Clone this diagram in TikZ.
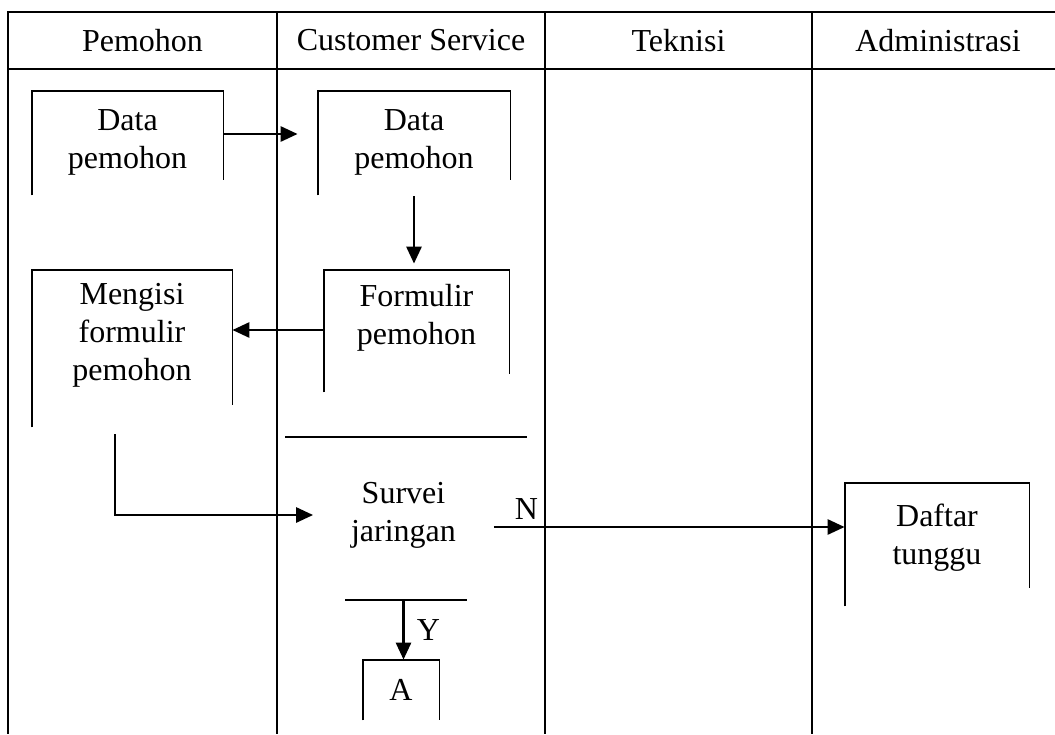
\documentclass[tikz,border=0pt]{standalone}
\usepackage{fontspec}
\setmainfont{Liberation Serif}
\usetikzlibrary{arrows.meta}
\usetikzlibrary{positioning}
\tikzset{lane line/.style={line width=1pt},}
\tikzset{box line/.style={line width=0.9pt},}
\tikzset{doc node/.style={inner sep=0pt, align=center, font=\fontsize{16}{19}\selectfont},}
\tikzset{lane title/.style={inner sep=0pt, font=\fontsize{16}{19}\selectfont},}
\tikzset{flow arrow/.style={-{Triangle[length=8.5pt,width=7.5pt]}, line width=1.4pt},}
% open document box: left side and right side end at their own heights
\newcommand{\docoutline}[3]{\draw[box line] ([yshift=#2]#1.south west) -- (#1.north west) -- (#1.north east) -- ([yshift=#3]#1.south east);}

\begin{document}
\begin{tikzpicture}[x=0.5pt, y=-0.5pt]
     \useasboundingbox (0,0) rectangle (1055,734);

     % lanes
     \draw[lane line] (1055,12) -- (8,12) -- (8,734);
     \draw[lane line] (8,69) -- (1055,69);
     \foreach \x in {277,545,812}
        \draw[lane line] (\x,12) -- (\x,734);
     \node[lane title] (hpemohon) at (142.5,40.5) {Pemohon};
     \node[lane title] (hcs) at (411,40.5) {Customer Service};
     \node[lane title] (hteknisi) at (678.5,40.5) {Teknisi};
     \node[lane title] (hadmin) at (938,40.5) {Administrasi};

     % documents
     \node[doc node, minimum width=95.5pt, minimum height=51pt] (datap) at (127.5,142) {Data\\pemohon};
     \node[doc node, minimum width=96pt, minimum height=51pt] (datacs) at (414,142) {Data\\pemohon};
     \node[doc node, minimum width=92.5pt, minimum height=48pt] (formulir) at (416.5,318) {Formulir\\pemohon};
     \node[doc node, minimum width=100pt, minimum height=65pt] (mengisi) at (132,335) {Mengisi\\formulir\\pemohon};
     \node[doc node, minimum width=92pt, minimum height=55pt] (daftar) at (937,538) {Daftar\\tunggu};
     \node[doc node, minimum width=38pt, minimum height=30pt] (konektor) at (401,690) {A};
     \node[doc node, minimum width=90pt] (survei) at (403.5,515) {Survei\\jaringan};

     \docoutline{datap}{-1pt}{6.5pt}
     \docoutline{datacs}{-1pt}{6.5pt}
     \docoutline{formulir}{-13pt}{-4pt}
     \docoutline{mengisi}{-13.5pt}{-2.5pt}
     \docoutline{daftar}{-6.5pt}{2.5pt}
     \docoutline{konektor}{0pt}{0pt}

     % decision bars
     \draw[box line] (285,437) -- (527,437);
     \draw[box line] (345,600) -- (467,600);

     \coordinate (f3) at ([yshift=-6pt]formulir.west);
     \coordinate (m4) at ([xshift=-8.5pt,yshift=-17pt]mengisi.south);
     \coordinate (sn) at ([yshift=-6pt]survei.east);
     \coordinate (sy) at ([yshift=-42.5pt]survei.center);

     \draw[flow arrow] ([yshift=4pt]datap.east) -- ([yshift=4pt,xshift=-10pt]datacs.west);
     \draw[flow arrow] ([yshift=-1.5pt]datacs.south) -- ([yshift=3pt]datacs.south |- formulir.north);
     \draw[flow arrow] (f3) -- (f3 -| mengisi.east);
     \draw[flow arrow] (m4) |- (survei.west);
     \draw[flow arrow] (sn) -- node[pos=0.13, anchor=south east, inner sep=0pt, yshift=3pt, font=\fontsize{16}{19}\selectfont] {N} (sn -| daftar.west);
     \draw[flow arrow] (sy) -- node[midway, right, inner sep=6pt, font=\fontsize{16}{19}\selectfont] {Y} (sy |- konektor.north);
\end{tikzpicture}
\end{document}
